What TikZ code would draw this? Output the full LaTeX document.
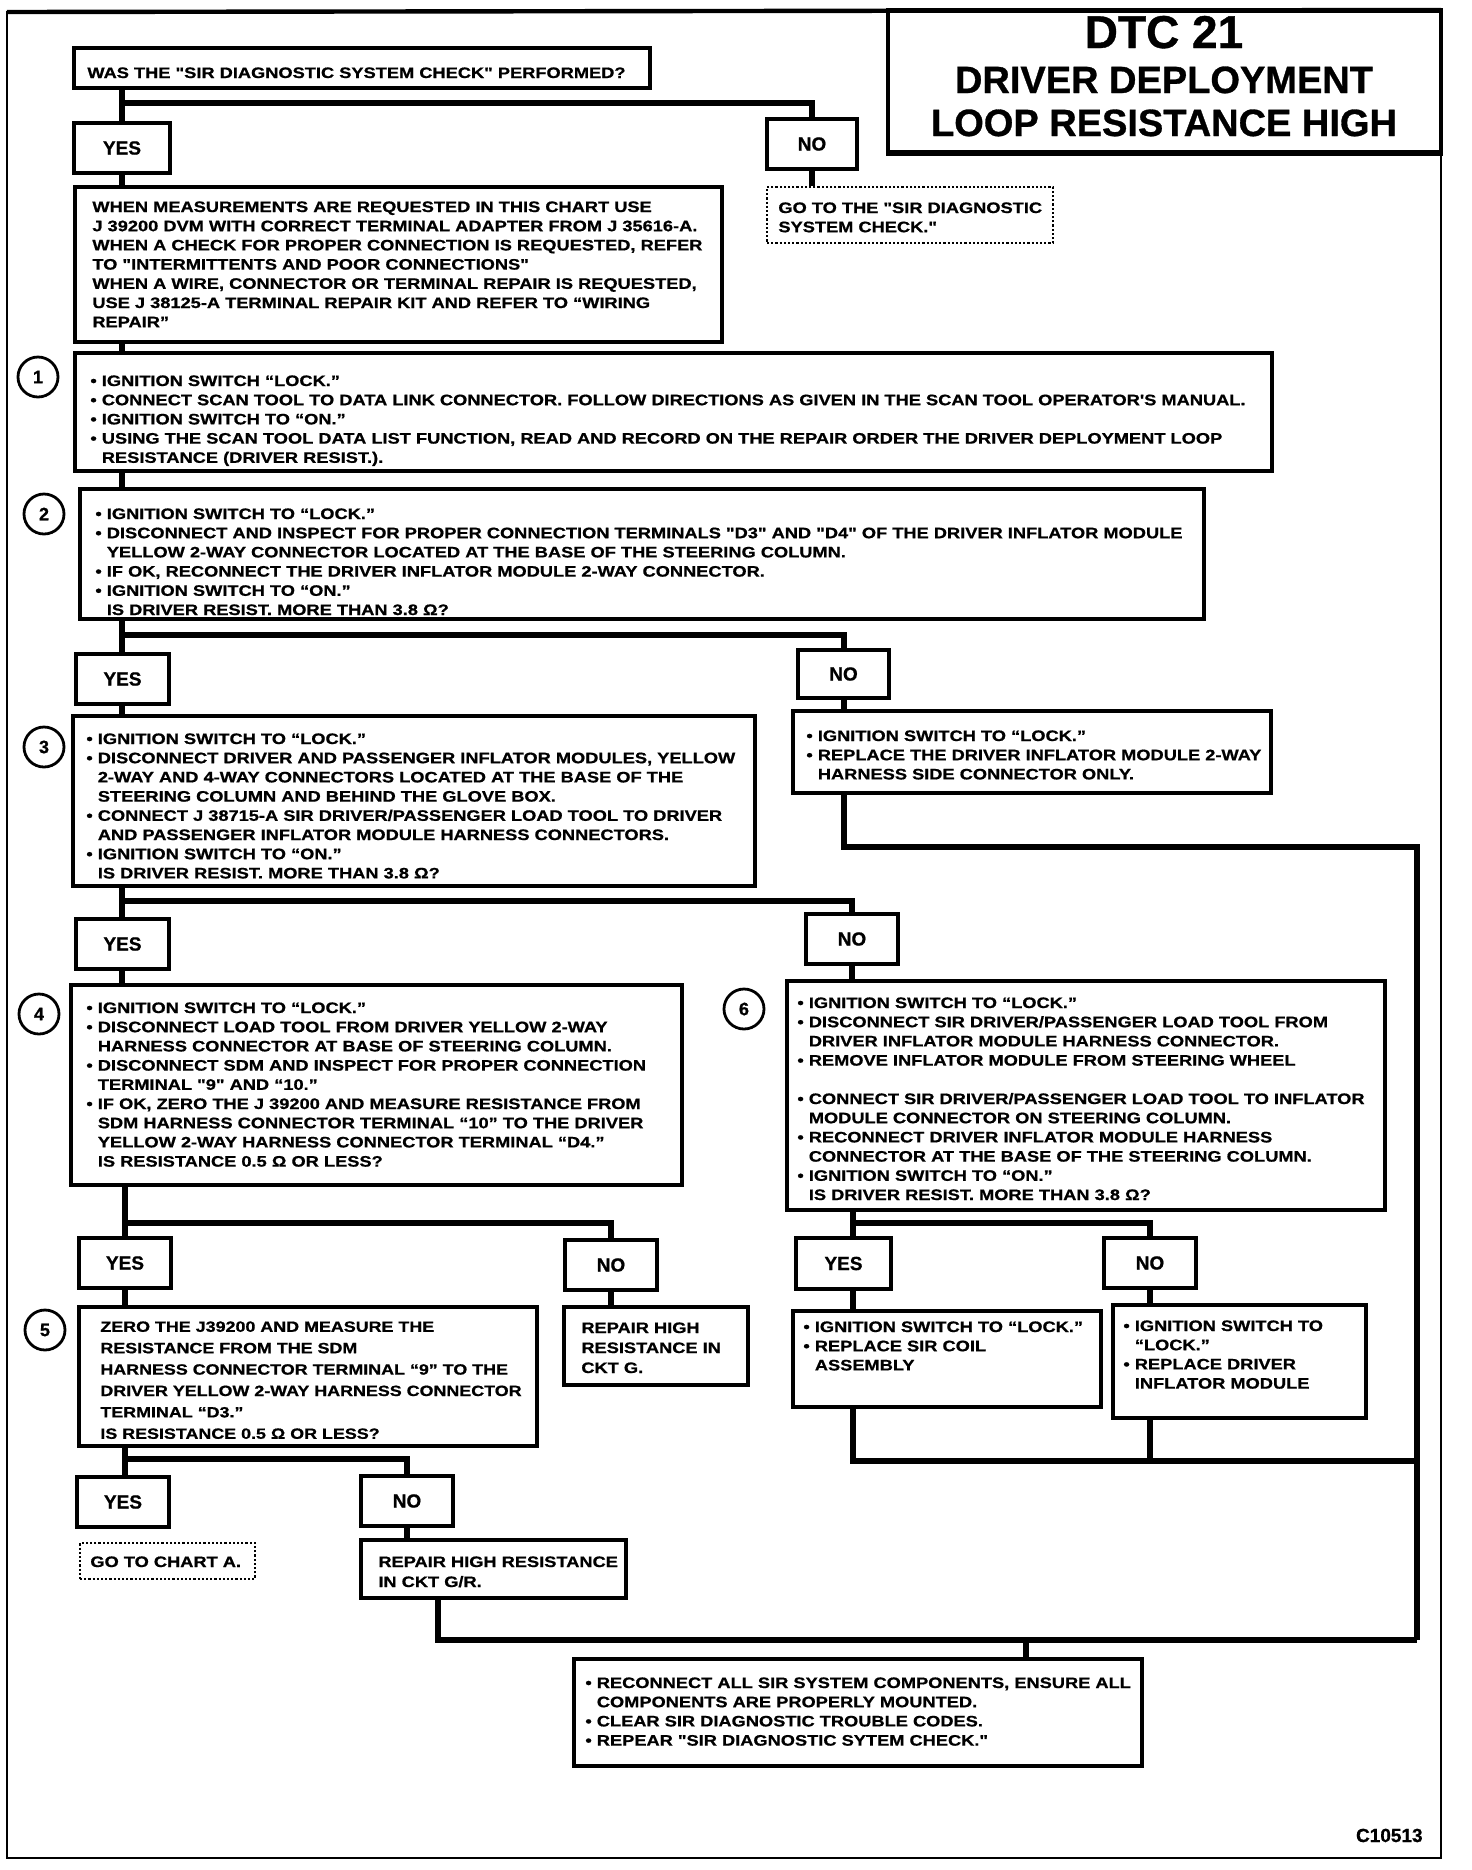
\documentclass[tikz,border=0pt]{standalone}
\usepackage{fontspec}
\usetikzlibrary{fit,calc}
\newfontfamily\bodyfont{Liberation Sans}[FakeStretch=1.2, FakeBold=0.8]
\newfontfamily\plainfont{Liberation Sans}
\newfontfamily\heavyfont{Liberation Sans}[FakeBold=0.8]
\newcommand\ind{\hphantom{•\ }}
\begin{document}
\begin{tikzpicture}[x=0.5pt,y=-0.5pt,
 rbox/.style={draw, line width=1.6pt, inner sep=0pt, rectangle},
 dbox/.style={draw, line width=1.1pt, densely dotted, inner sep=0pt, rectangle},
 yn/.style={rbox},
 ynt/.style={inner sep=0pt, anchor=center, font=\heavyfont\bfseries\fontsize{9.5}{11}\selectfont},
 txt/.style={inner sep=0pt, align=left, anchor=north west, font=\bodyfont\bfseries\fontsize{7.6}{9.6}\selectfont},
 txtw/.style={txt, font=\bodyfont\bfseries\fontsize{7.45}{10.7}\selectfont},
 txtm/.style={txt, font=\bodyfont\bfseries\fontsize{7.6}{10}\selectfont},
 conn/.style={line width=3pt},
 circ/.style={circle, draw, line width=1.4pt, minimum size=20pt, inner sep=0pt, font=\heavyfont\bfseries\fontsize{9}{10}\selectfont},
 ttl/.style={inner sep=0pt, anchor=base, font=\heavyfont\bfseries\fontsize{19}{22}\selectfont}
]
\useasboundingbox (0,0) rectangle (1472,1870);
\fill[white] (0,0) rectangle (1472,1870);
% frame
\draw[line width=1.3pt] (7,12) rectangle (1441,1858);
\draw[line width=2.2pt] (7,12) -- (1441,10);
% title
\node[rbox, fit={(888,10) (1441,152)}] (title) {};
\draw[line width=2pt] (title.south west) -- (title.south east);
\node[ttl, font=\heavyfont\bfseries\fontsize{23}{26}\selectfont] (tt1) at (1164,48) {DTC 21};
\node[ttl] (tt2) at (1164,93) {DRIVER DEPLOYMENT};
\node[ttl] (tt3) at (1164,136) {LOOP RESISTANCE HIGH};

% boxes
\node[rbox, fit={(74,48) (650,88)}] (q) {};
\node[txt] (qt) at (87,67) {WAS THE "SIR DIAGNOSTIC SYSTEM CHECK" PERFORMED?};
\node[yn, fit={(74,123) (170,173)}] (yes1) {};
\node[ynt] (yes1t) at (yes1) {YES};
\node[yn, fit={(767,119) (857,169)}] (no1) {};
\node[ynt] (no1t) at (no1) {NO};
\node[rbox, fit={(75,187) (722,342)}] (w) {};
\node[txt] (wt) at (92,201) {WHEN MEASUREMENTS ARE REQUESTED IN THIS CHART USE\\
J 39200 DVM WITH CORRECT TERMINAL ADAPTER FROM J 35616-A.\\
WHEN A CHECK FOR PROPER CONNECTION IS REQUESTED, REFER\\
TO "INTERMITTENTS AND POOR CONNECTIONS"\\
WHEN A WIRE, CONNECTOR OR TERMINAL REPAIR IS REQUESTED,\\
USE J 38125-A TERMINAL REPAIR KIT AND REFER TO “WIRING\\
REPAIR”};
\node[dbox, fit={(767,187) (1053,243)}] (go) {};
\node[txt] (got) at (778,202) {GO TO THE "SIR DIAGNOSTIC\\ SYSTEM CHECK."};

\node[circ] (c1) at (38,377) {1};
\node[rbox, fit={(75,353) (1272,471)}] (b1) {};
\node[txt] (b1t) at (90,375) {• IGNITION SWITCH “LOCK.”\\
• CONNECT SCAN TOOL TO DATA LINK CONNECTOR. FOLLOW DIRECTIONS AS GIVEN IN THE SCAN TOOL OPERATOR'S MANUAL.\\
• IGNITION SWITCH TO “ON.”\\
• USING THE SCAN TOOL DATA LIST FUNCTION, READ AND RECORD ON THE REPAIR ORDER THE DRIVER DEPLOYMENT LOOP\\
\ind RESISTANCE (DRIVER RESIST.).};

\node[circ] (c2) at (44,514) {2};
\node[rbox, fit={(80,489) (1204,619)}] (b2) {};
\node[txt] (b2t) at (95,508) {• IGNITION SWITCH TO “LOCK.”\\
• DISCONNECT AND INSPECT FOR PROPER CONNECTION TERMINALS "D3" AND "D4" OF THE DRIVER INFLATOR MODULE\\
\ind YELLOW 2-WAY CONNECTOR LOCATED AT THE BASE OF THE STEERING COLUMN.\\
• IF OK, RECONNECT THE DRIVER INFLATOR MODULE 2-WAY CONNECTOR.\\
• IGNITION SWITCH TO “ON.”\\
\ind IS DRIVER RESIST. MORE THAN 3.8 Ω?};

\node[yn, fit={(76,654) (169,704)}] (yes2) {};
\node[ynt] (yes2t) at (yes2) {YES};
\node[yn, fit={(798,650) (889,698)}] (no2) {};
\node[ynt] (no2t) at (no2) {NO};

\node[circ] (c3) at (44,747) {3};
\node[rbox, fit={(73,716) (755,886)}] (b3) {};
\node[txt] (b3t) at (86,733) {• IGNITION SWITCH TO “LOCK.”\\
• DISCONNECT DRIVER AND PASSENGER INFLATOR MODULES, YELLOW\\
\ind 2-WAY AND 4-WAY CONNECTORS LOCATED AT THE BASE OF THE\\
\ind STEERING COLUMN AND BEHIND THE GLOVE BOX.\\
• CONNECT J 38715-A SIR DRIVER/PASSENGER LOAD TOOL TO DRIVER\\
\ind AND PASSENGER INFLATOR MODULE HARNESS CONNECTORS.\\
• IGNITION SWITCH TO “ON.”\\
\ind IS DRIVER RESIST. MORE THAN 3.8 Ω?};

\node[rbox, fit={(793,711) (1271,793)}] (nor) {};
\node[txt] (nort) at (806,730) {• IGNITION SWITCH TO “LOCK.”\\
• REPLACE THE DRIVER INFLATOR MODULE 2-WAY\\
\ind HARNESS SIDE CONNECTOR ONLY.};

\node[yn, fit={(76,919) (169,969)}] (yes3) {};
\node[ynt] (yes3t) at (yes3) {YES};
\node[yn, fit={(806,914) (898,964)}] (no3) {};
\node[ynt] (no3t) at (no3) {NO};

\node[circ] (c4) at (39,1014) {4};
\node[rbox, fit={(71,985) (682,1185)}] (b4) {};
\node[txt] (b4t) at (86,1002) {• IGNITION SWITCH TO “LOCK.”\\
• DISCONNECT LOAD TOOL FROM DRIVER YELLOW 2-WAY\\
\ind HARNESS CONNECTOR AT BASE OF STEERING COLUMN.\\
• DISCONNECT SDM AND INSPECT FOR PROPER CONNECTION\\
\ind TERMINAL "9" AND “10.”\\
• IF OK, ZERO THE J 39200 AND MEASURE RESISTANCE FROM\\
\ind SDM HARNESS CONNECTOR TERMINAL “10” TO THE DRIVER\\
\ind YELLOW 2-WAY HARNESS CONNECTOR TERMINAL “D4.”\\
\ind IS RESISTANCE 0.5 Ω OR LESS?};

\node[circ] (c6) at (744,1009) {6};
\node[rbox, fit={(787,981) (1385,1210)}] (b6) {};
\node[txt] (b6t) at (797,997) {• IGNITION SWITCH TO “LOCK.”\\
• DISCONNECT SIR DRIVER/PASSENGER LOAD TOOL FROM\\
\ind DRIVER INFLATOR MODULE HARNESS CONNECTOR.\\
• REMOVE INFLATOR MODULE FROM STEERING WHEEL\\[9.6pt]
• CONNECT SIR DRIVER/PASSENGER LOAD TOOL TO INFLATOR\\
\ind MODULE CONNECTOR ON STEERING COLUMN.\\
• RECONNECT DRIVER INFLATOR MODULE HARNESS\\
\ind CONNECTOR AT THE BASE OF THE STEERING COLUMN.\\
• IGNITION SWITCH TO “ON.”\\
\ind IS DRIVER RESIST. MORE THAN 3.8 Ω?};

\node[yn, fit={(79,1238) (171,1288)}] (yes4) {};
\node[ynt] (yes4t) at (yes4) {YES};
\node[yn, fit={(565,1240) (657,1290)}] (no4) {};
\node[ynt] (no4t) at (no4) {NO};
\node[rbox, fit={(564,1307) (748,1385)}] (rg) {};
\node[txtm] (rgt) at (581,1322) {REPAIR HIGH\\ RESISTANCE IN\\ CKT G.};

\node[circ] (c5) at (45,1330) {5};
\node[rbox, fit={(79,1307) (537,1446)}] (b5) {};
\node[txtw] (b5t) at (100,1321) {ZERO THE J39200 AND MEASURE THE\\
RESISTANCE FROM THE SDM\\
HARNESS CONNECTOR TERMINAL “9” TO THE\\
DRIVER YELLOW 2-WAY HARNESS CONNECTOR\\
TERMINAL “D3.”\\
IS RESISTANCE 0.5 Ω OR LESS?};

\node[yn, fit={(77,1477) (169,1527)}] (yes5) {};
\node[ynt] (yes5t) at (yes5) {YES};
\node[yn, fit={(361,1476) (453,1526)}] (no5) {};
\node[ynt] (no5t) at (no5) {NO};
\node[dbox, fit={(80,1543) (255,1579)}] (ga) {};
\node[txt] (gat) at (90,1556) {GO TO CHART A.};
\node[rbox, fit={(361,1540) (626,1598)}] (rgr) {};
\node[txtm] (rgrt) at (378,1556) {REPAIR HIGH RESISTANCE\\ IN CKT G/R.};

\node[yn, fit={(796,1238) (891,1289)}] (yes6) {};
\node[ynt] (yes6t) at (yes6) {YES};
\node[yn, fit={(1104,1238) (1196,1288)}] (no6) {};
\node[ynt] (no6t) at (no6) {NO};
\node[rbox, fit={(793,1311) (1101,1407)}] (coil) {};
\node[txt] (coilt) at (803,1321) {• IGNITION SWITCH TO “LOCK.”\\
• REPLACE SIR COIL\\
\ind ASSEMBLY};
\node[rbox, fit={(1113,1305) (1366,1418)}] (drv) {};
\node[txt] (drvt) at (1123,1320) {• IGNITION SWITCH TO\\
\ind “LOCK.”\\
• REPLACE DRIVER\\
\ind INFLATOR MODULE};

\node[rbox, fit={(574,1659) (1142,1766)}] (fin) {};
\node[txt] (fint) at (585,1677) {• RECONNECT ALL SIR SYSTEM COMPONENTS, ENSURE ALL\\
\ind COMPONENTS ARE PROPERLY MOUNTED.\\
• CLEAR SIR DIAGNOSTIC TROUBLE CODES.\\
• REPEAR "SIR DIAGNOSTIC SYTEM CHECK."};

\node[inner sep=0pt, anchor=base east, font=\heavyfont\bfseries\fontsize{9.5}{11}\selectfont] (code) at (1423,1842) {C10513};

% connector coordinates
\coordinate (vA) at (122,0);
\coordinate (vB) at (125,0);
\coordinate (vY6) at (853,0);
\coordinate (vD5) at (438,0);
\coordinate (vD6) at (1026,0);
\coordinate (j1) at (122,103);
\coordinate (j2) at (122,635);
\coordinate (j3) at (122,901);
\coordinate (j4) at (125,1223);
\coordinate (j5) at (125,1459);
\coordinate (j6) at (853,1223);
\coordinate (jr) at (1417,847);
\coordinate (jc) at (1417,1461);
\coordinate (jb) at (1417,1640);

\draw[conn] (q.south -| vA) -- (yes1.north -| vA);
\draw[conn] (j1) -| (no1.north);
\draw[conn] (yes1.south -| vA) -- (w.north -| vA);
\draw[conn] (no1.south) -- (go.north -| no1.south);
\draw[conn] (w.south -| vA) -- (b1.north -| vA);
\draw[conn] (b1.south -| vA) -- (b2.north -| vA);
\draw[conn] (b2.south -| vA) -- (yes2.north -| vA);
\draw[conn] (j2) -| (no2.north);
\draw[conn] (yes2.south -| vA) -- (b3.north -| vA);
\draw[conn] (no2.south) -- (nor.north -| no2.south);
\draw[conn] (nor.south -| no2.south) |- (jr) -- (jb);
\draw[conn] (b3.south -| vA) -- (yes3.north -| vA);
\draw[conn] (j3) -| (no3.north);
\draw[conn] (yes3.south -| vA) -- (b4.north -| vA);
\draw[conn] (no3.south) -- (b6.north -| no3.south);
\draw[conn] (b4.south -| vB) -- (yes4.north -| vB);
\draw[conn] (j4) -| (no4.north);
\draw[conn] (yes4.south -| vB) -- (b5.north -| vB);
\draw[conn] (no4.south) -- (rg.north -| no4.south);
\draw[conn] (b5.south -| vB) -- (yes5.north -| vB);
\draw[conn] (j5) -| (no5.north);
\draw[conn] (no5.south) -- (rgr.north -| no5.south);
\draw[conn] (rgr.south -| vD5) |- (jb);
\draw[conn] (vD6 |- jb) -- (fin.north -| vD6);
\draw[conn] (b6.south -| vY6) -- (yes6.north -| vY6);
\draw[conn] (j6) -| (no6.north);
\draw[conn] (yes6.south -| vY6) -- (coil.north -| vY6);
\draw[conn] (no6.south) -- (drv.north -| no6.south);
\draw[conn] (coil.south -| vY6) |- (jc);
\draw[conn] (drv.south -| no6.south) -- (no6.south |- jc);
\end{tikzpicture}
\end{document}
